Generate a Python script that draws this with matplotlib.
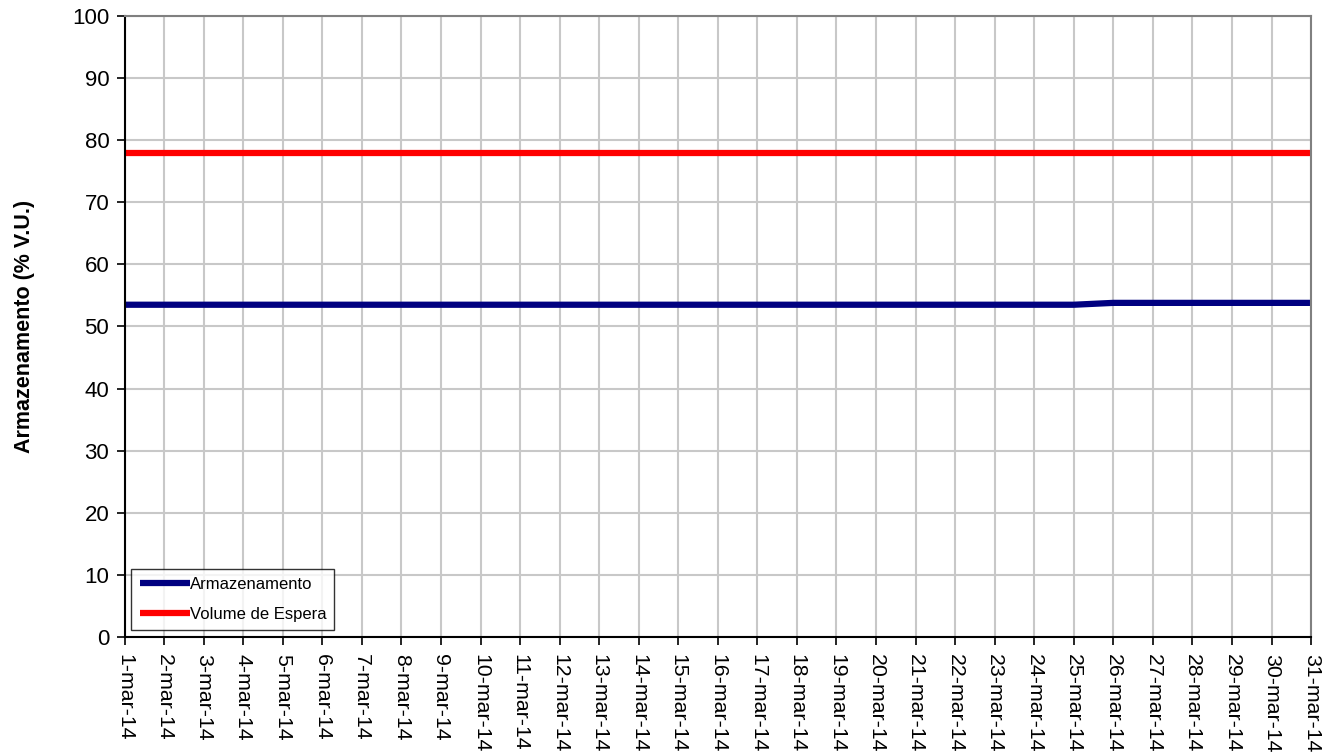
import matplotlib
matplotlib.use('Agg')
import matplotlib.pyplot as plt

plt.rcParams['font.family'] = ['Liberation Sans', 'DejaVu Sans']

# dados
dias = list(range(1, 32))
rotulos = ['%d-mar-14' % d for d in dias]
armazenamento = [53.5] * 25 + [53.8] * 6
volume_espera = [77.9] * 31

fig = plt.figure(figsize=(13.42, 7.54), dpi=100)
ax = fig.add_axes([0.0928, 0.155, 0.8842, 0.824])

ax.plot(dias, armazenamento, color='#000080', lw=4.5, label='Armazenamento', solid_capstyle='butt')
ax.plot(dias, volume_espera, color='#FF0000', lw=4.5, label='Volume de Espera', solid_capstyle='butt')

ax.set_xlim(1, 31)
ax.set_ylim(0, 100)
ax.set_xticks(dias)
ax.set_xticklabels(rotulos, rotation=-90, fontsize=15.3)
ax.set_yticks(range(0, 101, 10))
ax.tick_params(axis='y', labelsize=16, direction='out', length=6, width=1.2, pad=5)
ax.tick_params(axis='x', direction='out', length=6, width=1.2, pad=6)
ax.grid(True, color='#C8C8C8', lw=1.5)
ax.set_axisbelow(True)

for s in ['top', 'right']:
    ax.spines[s].set_color('#808080')
    ax.spines[s].set_linewidth(1.5)
for s in ['left', 'bottom']:
    ax.spines[s].set_color('black')
    ax.spines[s].set_linewidth(1.5)

ax.set_ylabel('Armazenamento (% V.U.)', fontsize=15.5, fontweight='bold', labelpad=27)

leg = ax.legend(loc='lower left', fontsize=12, frameon=True, fancybox=False,
                edgecolor='black', handlelength=3.0, handletextpad=0.0,
                borderaxespad=0.4, labelspacing=0.9, borderpad=0.5)
leg.get_frame().set_linewidth(1)

fig.savefig('out.png', dpi=100)
